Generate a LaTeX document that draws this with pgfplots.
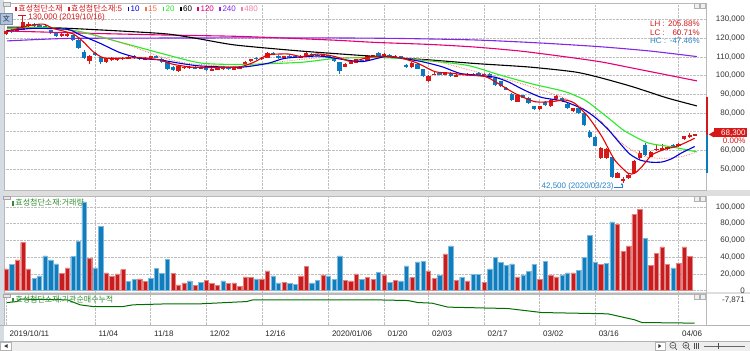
\documentclass[border=0pt]{standalone}
\usepackage{pgfplots}
\pgfplotsset{compat=1.18}
\usepackage{pgfplotstable}
\usetikzlibrary{arrows.meta}
\usepackage{fontspec}
\setmainfont{Liberation Sans}
\newfontfamily\kr{Noto Sans CJK KR}
\definecolor{cR}{RGB}{214,24,24}
\definecolor{cB}{RGB}{12,122,190}
\definecolor{vR}{RGB}{200,28,30}
\definecolor{vB}{RGB}{16,126,190}
\definecolor{m5}{RGB}{232,0,0}
\definecolor{m10}{RGB}{0,0,220}
\definecolor{m15}{RGB}{250,110,70}
\definecolor{m20}{RGB}{40,235,40}
\definecolor{m120}{RGB}{230,0,120}
\definecolor{m240}{RGB}{130,40,230}
\definecolor{m480}{RGB}{240,130,170}
\definecolor{gline}{RGB}{0,110,0}
\definecolor{ttl}{RGB}{50,140,50}
\definecolor{sep}{RGB}{222,222,222}
\definecolor{lbl}{RGB}{40,130,200}
\definecolor{stripc}{RGB}{214,220,228}
\definecolor{iconE}{RGB}{120,140,170}
\definecolor{iconF}{RGB}{176,194,218}
\definecolor{iconT}{RGB}{30,50,90}
\definecolor{botc}{RGB}{238,238,238}
\newcommand\fs{\fontsize{8}{9.6}\selectfont}

\pgfplotstableread{
i o h l c
0 122400 124600 121800 124000
2 123400 125200 123000 124600
3 124600 130000 124200 128600
4 126800 128400 126000 127600
10 121000 122800 120600 122200
11 121000 122800 120600 122400
15 107600 110800 106400 110400
18 107400 109600 106800 109200
19 108200 109800 107800 109200
20 108400 109400 108000 109000
21 108600 110000 108200 109600
22 109200 110400 108800 110000
25 108600 109800 108200 109400
26 109200 110600 108800 110200
31 102400 105400 102000 105000
32 104000 105000 103600 104600
33 104000 105200 103600 104800
35 103600 104600 103200 104200
37 102600 104000 102200 103600
38 103200 104400 102800 104000
39 103400 104600 103000 104200
41 103200 104400 102800 104000
42 103600 105000 103200 104600
43 105800 107800 105500 107400
44 107600 109000 107200 108700
46 108800 110000 108400 109500
47 109500 112600 109300 112200
50 109400 110600 109000 110200
53 109600 110800 109200 110400
54 110200 112400 110000 111900
57 110600 111600 110200 111200
61 104800 106600 104500 106400
62 106200 107500 106000 107200
63 106800 109000 106500 108600
65 108000 111000 107800 110600
66 110200 111200 110000 110800
68 110200 111800 110000 111400
70 110000 111000 109600 110600
73 104600 107400 104200 106800
76 97000 100000 96600 99600
77 100400 101600 100000 101000
79 100400 102000 100000 101600
81 99400 100800 99000 100400
83 100200 101200 99800 101000
86 100400 101400 100000 101000
92 86000 89800 85600 89400
96 81800 83800 81400 83400
98 83400 87400 83000 86800
99 87200 89400 86800 89000
102 80800 82800 80400 82400
107 56000 61600 55400 61200
108 55600 61000 55200 60600
110 45400 48600 45000 48000
111 44000 45900 42500 44400
112 45200 47200 44800 46800
113 48000 54800 47600 54400
114 55700 59600 55200 58700
116 56600 59600 56200 59200
117 60200 62800 59600 60800
118 60600 63200 60000 61000
119 60600 62200 60200 61800
121 62000 64000 61600 63600
122 65800 67800 65400 67400
123 67400 69200 66600 67900
124 68150 68450 68150 68450
}\upT

\pgfplotstableread{
i o h l c
1 124200 124800 122800 123400
5 127600 128000 126000 126600
6 127000 127800 125400 126000
7 126400 127000 124800 125400
8 124200 124600 122000 122600
9 122600 123000 120400 121000
12 121400 121800 118600 119000
13 119000 119400 114000 114600
14 112800 113400 109000 109400
16 111800 112400 110400 111000
17 110000 110600 106000 107000
23 110200 111000 108600 109400
24 109600 110000 108400 109000
27 110400 110800 109200 109600
28 109000 109400 106600 107000
29 107000 107200 103000 103400
30 104600 105000 102400 103000
34 104600 105000 103400 103800
36 104000 104400 102600 103000
40 104200 104600 103000 103400
45 109600 110000 108500 108800
48 111800 112500 110800 111200
49 110600 110800 109000 109400
51 110400 110800 109600 110000
52 110200 110600 109200 109600
55 111600 112000 110400 110800
56 111200 111600 110400 110800
58 110800 111200 109400 109800
59 109600 109800 107200 107600
60 107000 107400 100800 102200
64 108400 108800 107400 107800
67 112200 112800 110000 110400
69 111000 111400 110000 110400
71 110200 110600 109200 109600
72 105600 106000 104200 104800
74 106200 106600 103200 103600
75 103200 103600 99200 99600
78 101400 101800 100200 100600
80 101400 101800 99200 99600
82 101000 101400 100000 100400
84 101000 101400 100200 100600
85 101200 101600 100200 100600
87 100800 101200 98200 98600
88 98400 98800 94600 95000
89 96800 97200 93800 94200
90 93400 94000 92000 92400
91 90200 90600 86600 87000
93 89400 89800 87800 88200
94 88200 88600 84800 85200
95 83400 83800 81400 81800
97 86000 86400 83800 84200
100 88000 88400 86000 86400
101 84800 85200 82200 82600
103 82400 82800 79400 79800
104 79800 80200 73200 73600
105 70000 71000 66600 67200
106 67000 67400 62000 62400
109 56600 57000 45200 45600
115 62800 63600 57000 57500
120 62800 63200 61200 61600
}\dnT

\pgfplotstableread{
i v
0 25900
2 36600
3 57700
4 25900
10 20700
11 27000
15 38200
18 21000
19 17500
20 19900
21 25000
24 13900
25 11100
30 20700
31 6800
32 9200
34 6000
36 12300
37 8400
38 6000
40 8400
41 9200
42 5400
43 16300
44 15900
46 13900
47 23500
50 10000
53 17500
54 28700
57 18700
61 12300
62 11500
63 19900
65 15500
66 13100
68 18700
70 12300
73 15500
76 23500
77 14700
79 43800
81 12300
83 11500
86 10000
92 16300
96 13100
98 18300
99 16300
102 21100
107 31000
110 78800
111 47000
112 53300
113 91500
114 97000
116 30200
117 44600
118 52100
119 31000
121 32600
122 52100
123 41000
}\volR

\pgfplotstableread{
i v
1 31000
5 14700
6 17500
7 41400
8 36600
9 31800
12 40600
13 58500
14 106000
16 27000
17 76400
22 11100
23 13100
26 14700
27 26300
28 20300
29 37400
33 11500
35 10000
39 11500
45 13900
48 17500
49 9200
51 8400
52 7600
55 9200
56 12300
58 17500
59 13100
60 41400
64 13100
67 21900
69 10000
71 11500
72 29500
74 34200
75 35000
78 18300
80 53300
82 15900
84 19100
85 19500
87 25900
88 39400
89 33800
90 30200
91 31800
93 18700
94 22700
95 31000
97 35000
100 18700
101 21100
103 24300
104 39400
105 65700
106 34200
108 32600
109 82000
115 62000
120 27000
}\volB

\pgfplotsset{
  wick/.style={draw=none, no markers, forget plot, error bars/.cd, y dir=both, y explicit, error mark=none,
    error bar style={draw=#1, line width=0.8pt, line cap=butt}},
  body/.style={draw=none, no markers, forget plot, error bars/.cd, y dir=both, y explicit, error mark=none,
    error bar style={draw=#1, line width=4.3pt, line cap=butt}},
  panel/.style={anchor=south west, scale only axis, width=702pt, xmin=-0.36, xmax=125.9,
    axis line style={gray!55}, major tick length=0pt, scaled y ticks=false,
    yticklabel pos=right, yticklabel style={anchor=east, xshift=42.5pt, font=\fs, text=black!80},
    xmajorgrids, major grid style={gray!50, densely dotted, line width=0.5pt}},
}

\begin{document}
\begin{tikzpicture}
\begin{scope}[x=1pt,y=-1pt]
\useasboundingbox (0,0) rectangle (750,351);
\fill[white] (0,0) rectangle (750,351);
\fill[sep] (0,190) rectangle (750,196);
\fill[sep] (0,292.5) rectangle (750,294);
\fill[stripc] (0,0) rectangle (3.5,341);
\draw[gray!60] (0,325.5) -- (750,325.5);
\end{scope}

% ---------------- price panel
\begin{axis}[panel, at={(4pt,-190pt)}, height=187pt, ymin=38770, ymax=138780,
  xtick={16,26,36,46,58,68,76,86,96,106,121}, xticklabels=\empty,
  ytick={50000,60000,70000,80000,90000,100000,110000,120000,130000},
  yticklabels={{50,000},{60,000},{},{80,000},{90,000},{100,000},{110,000},{120,000},{130,000}},
  ymajorgrids]
\addplot[wick=cR] table[x=i, y expr={(\thisrow{h}+\thisrow{l})/2}, y error expr={(\thisrow{h}-\thisrow{l})/2}] {\upT};
\addplot[wick=cB] table[x=i, y expr={(\thisrow{h}+\thisrow{l})/2}, y error expr={(\thisrow{h}-\thisrow{l})/2}] {\dnT};
\addplot[body=cR] table[x=i, y expr={(\thisrow{o}+\thisrow{c})/2}, y error expr={(\thisrow{c}-\thisrow{o})/2}] {\upT};
\addplot[body=cB] table[x=i, y expr={(\thisrow{o}+\thisrow{c})/2}, y error expr={(\thisrow{o}-\thisrow{c})/2}] {\dnT};
% moving averages
\addplot[m240, line width=1.1pt, smooth, tension=0.4] coordinates {(0.18,118500) (6.1,119300) (13.3,119900) (42.1,120100) (58.3,120100) (70.9,119800) (84.4,119000) (96.0,117400) (106.8,115400) (115.8,113100) (124.3,110100)};
\addplot[m120, line width=1.1pt, smooth, tension=0.4] coordinates {(0.18,123800) (13.3,122700) (27.7,121700) (42.1,120900) (58.3,119000) (66.4,117700) (76.3,116600) (84.4,115200) (92.4,113100) (99.6,110400) (106.8,107400) (112.8,103900) (118.9,100300) (124.3,97100)};
\addplot[black, line width=1.1pt, smooth, tension=0.4] coordinates {(0.18,125900) (9.7,125400) (20.5,123800) (29.0,122200) (34.9,119500) (41.2,116300) (52.9,113100) (66.4,110200) (76.3,108300) (84.4,106400) (94.2,104500) (102.3,101900) (106.8,98900) (112.8,93900) (118.9,88000) (124.3,83700)};
\addplot[m20, line width=1.1pt, smooth, tension=0.4] coordinates {(0.18,125100) (7.0,125700) (13.3,123500) (20.0,118200) (27.7,112000) (34.9,106700) (42.1,105900) (52.9,107000) (59.2,109100) (66.4,109600) (70.9,109100) (78.4,107200) (83.5,105100) (88.8,100300) (94.6,95500) (100.5,91400) (104.1,86900) (106.5,81600) (109.0,75700) (111.3,70300) (115.5,63900) (119.8,61800) (124.3,59100)};
\addplot[m15, line width=0.7pt, densely dotted, smooth, tension=0.4] coordinates {(0.18,124900) (5,125500) (11.0,124300) (16.9,120800) (22.8,115400) (27.7,110100) (32.6,106500) (42.1,104700) (47.5,106700) (56.5,109400) (70.9,109600) (78.1,107000) (82.6,103500) (91.5,96700) (100.5,87800) (106.5,77100) (110.8,63700) (114.9,56600) (118.5,55700) (121.6,56600) (123.9,58700)};
\addplot[m10, line width=1.1pt, smooth, tension=0.4] coordinates {(0.18,124000) (4.86,125200) (11.0,124700) (13.3,121700) (16.9,117200) (20.5,112200) (24.1,109200) (27.7,108300) (31.3,106500) (34.9,105100) (42.1,104400) (47.1,106500) (50.2,109200) (56.1,110400) (59.2,109200) (64.0,107400) (68.2,110100) (71.2,109200) (74.8,107400) (78.4,104700) (81.7,101100) (85.3,100000) (88.0,99000) (90.4,96500) (93,92500) (96.3,88300) (100.3,86200) (103.8,82000) (106,77500) (108.2,71500) (110.5,63500) (112.2,58000) (114,54800) (116,53600) (118,53700) (119.8,55500) (121.5,58500) (123.9,62000)};
\addplot[m5, line width=1.1pt, smooth, tension=0.4] coordinates {(0.18,123400) (3.78,126500) (6.65,127500) (8.45,125200) (12.05,122200) (13.85,118100) (15.65,112700) (17.45,109500) (19.96,109200) (24.1,109500) (27.7,108300) (30.0,106000) (33.6,104400) (38,104300) (42.1,104600) (44.8,107400) (47.1,111000) (50.7,111500) (53.2,110100) (56.1,111500) (59.2,110100) (62.2,107400) (65.1,109700) (68.2,110400) (71.2,109200) (74.1,106500) (77.2,102000) (80.2,101200) (82.6,100300) (86.2,99400) (88.5,95800) (91.5,90500) (95.1,86000) (98.2,86000) (100.5,86900) (102.3,85100) (104.7,78000) (107.2,67300) (109.5,54800) (111.9,47700) (113.1,47700) (114.4,51200) (116.2,57500) (118.5,60500) (120.9,62300) (123.9,66400)};
\end{axis}

% ---------------- volume panel
\begin{axis}[panel, at={(4pt,-293pt)}, height=97pt, ymin=-2748, ymax=113142,
  xtick={16,26,36,46,58,68,76,86,96,106,121}, xticklabels=\empty,
  ytick={0,20000,40000,60000,80000,100000},
  yticklabels={0,{20,000},{40,000},{60,000},{80,000},{100,000}},
  ymajorgrids]
\addplot[ybar, bar width=4.3pt, bar shift=0pt, fill=vR, draw=vR!55!white, line width=0.4pt] table[x=i, y=v] {\volR};
\addplot[ybar, bar width=4.3pt, bar shift=0pt, fill=vB, draw=vB!55!white, line width=0.4pt] table[x=i, y=v] {\volB};
\end{axis}

% ---------------- institutional cumulative panel
\begin{axis}[panel, at={(4pt,-325pt)}, height=31pt, ymin=-15371, ymax=-6071,
  xtick={0,16,26,36,46,58,68,76,86,96,106,121},
  xticklabels={2019/10/11,11/04,11/18,12/02,12/16,2020/01/06,01/20,02/03,02/17,03/02,03/16,04/06},
  xticklabel style={anchor=west, yshift=-9pt, xshift=0pt, font=\fs, text=black!85},
  ytick={-7871}, yticklabels={-7{,}871}]
\addplot[gline, line width=1pt] coordinates {(0.18,-8681) (1.98,-8381) (2.5,-7661) (11.0,-7871) (13.3,-9371) (15.6,-9881) (21.0,-9881) (22.8,-9371) (29.0,-9071) (34.9,-9071) (43.3,-8381) (44.4,-7871) (62.4,-7871) (66.4,-7871) (72.3,-8081) (74.1,-8681) (76.6,-8861) (79.5,-10061) (90.3,-10481) (96.4,-11681) (108.3,-12071) (113.1,-13871) (114.4,-14681) (123.9,-14861)};
\end{axis}

% ---------------- decorations
\begin{scope}[x=1pt,y=-1pt]
% legend line
\node[anchor=west, inner sep=0pt, font=\fs] at (15,8) {%
\textcolor{cR}{\rule{1.6pt}{4.5pt}\hspace{1.5pt}{\kr 효성첨단소재}}\hspace{5.5pt}%
\textcolor{cR}{\rule{1.6pt}{4.5pt}\hspace{1.5pt}{\kr 효성첨단소재}:5}\hspace{5.5pt}%
\textcolor{m10}{\rule{1.6pt}{4.5pt}\hspace{1.5pt}10}\hspace{5.5pt}%
\textcolor{m15}{\rule{1.6pt}{4.5pt}\hspace{1.5pt}15}\hspace{5.5pt}%
\textcolor{m20}{\rule{1.6pt}{4.5pt}\hspace{1.5pt}20}\hspace{5.5pt}%
\textcolor{black}{\rule{1.6pt}{4.5pt}\hspace{1.5pt}60}\hspace{5.5pt}%
\textcolor{m120}{\rule{1.6pt}{4.5pt}\hspace{1.5pt}120}\hspace{5.5pt}%
\textcolor{m240}{\rule{1.6pt}{4.5pt}\hspace{1.5pt}240}\hspace{5.5pt}%
\textcolor{m480}{\rule{1.6pt}{4.5pt}\hspace{1.5pt}480}};
% high annotation
\draw[cR, line width=0.6pt] (18,15) -- (26,15) (22,15) -- (22,20);
\node[anchor=west, inner sep=0pt, font=\fs, text=cR] at (28,17.5) {130,000 (2019/10/16)};
% icons top-left
\draw[gray!70, fill=gray!20] (3,2.5) rectangle (10,6);
\draw[iconE, fill=iconF] (0.5,13) rectangle (12,24);
\node[font=\fontsize{7}{8}\selectfont\kr, text=iconT, inner sep=0pt] at (6.25,18.5) {文};
% LH LC HC
\node[anchor=west, inner sep=0pt, font=\fs, text=cR] at (650,24) {LH :};
\node[anchor=east, inner sep=0pt, font=\fs, text=cR] at (700,24) {205.88\%};
\node[anchor=west, inner sep=0pt, font=\fs, text=cR] at (650,32.5) {LC :};
\node[anchor=east, inner sep=0pt, font=\fs, text=cR] at (700,32.5) {60.71\%};
\node[anchor=west, inner sep=0pt, font=\fs, text=lbl] at (650,41) {HC :};
\node[anchor=east, inner sep=0pt, font=\fs, text=lbl] at (700,41) {-47.46\%};
% low annotation
\node[anchor=east, inner sep=0pt, font=\fs, text=lbl] at (614,187) {42,500 (2020/03/23)};
\draw[lbl, line width=0.6pt, -{Stealth[length=2.5pt,width=2.5pt]}] (614.5,187.5) -- (622,187.5) -- (622,183);
% current price marker
\fill[cR] (706,97) rectangle (708.5,135);
\fill[cB] (706,135) rectangle (708.5,173);
\fill[cR] (709,134.5) -- (714,131.5) -- (714,137.5) -- cycle;
\fill[cR] (714,128.5) rectangle (747,137.5);
\node[anchor=east, inner sep=0pt, font=\fs, text=white] at (746,133) {68,300};
\fill[white] (714,137.5) rectangle (747,145);
\node[anchor=east, inner sep=0pt, font=\fs, text=cR] at (746,141.2) {0.00\%};
% panel icons right
\foreach \yy in {3.5,196.5,294.5}{
  \draw[gray!60, fill=gray!12] (694,\yy) rectangle (699,\yy+5);
  \draw[gray!60, fill=gray!12] (700,\yy) rectangle (705,\yy+5);
}
% panel titles
\draw[gray!70, fill=gray!20] (3,196.5) rectangle (10,199.5);
\node[anchor=west, inner sep=0pt, font=\fs, text=ttl] at (12,203) {\rule{1.6pt}{4.5pt}\hspace{1.5pt}{\kr 효성첨단소재}:{\kr 거래량}};
\draw[gray!70, fill=gray!20] (3,294.5) rectangle (10,297.5);
\node[anchor=west, inner sep=0pt, font=\fs, text=ttl] at (12,299.5) {\rule{1.6pt}{4.5pt}\hspace{1.5pt}{\kr 효성첨단소재}:{\kr 기관순매수누적}};
% bottom bar
\fill[botc] (0,341) rectangle (750,351);
\draw[gray!60] (0,341) -- (750,341);
\draw[gray!60, fill=white] (0.5,342) rectangle (11,350.5);
\fill[black!80] (4,346.2) -- (7.5,344.2) -- (7.5,348.2) -- cycle;
\draw[gray!60, fill=white] (655,342) rectangle (665,350.5);
\fill[black!80] (661.5,346.2) -- (658.5,344.2) -- (658.5,348.2) -- cycle;
\draw[black!70, line width=0.6pt] (673,345.5) circle (3) (671.5,345.5) -- (674.5,345.5) (675,347.5) -- (677,350);
\draw[black!70, line width=0.6pt] (686,345.5) circle (3) (684.5,345.5) -- (687.5,345.5) (686,344) -- (686,347) (688,347.5) -- (690,350);
\draw[black!70, line width=0.6pt] (694,343) -- (694,349) (696,343) -- (696,349) (698,343) -- (698,349);
\draw[black!60, line width=0.5pt] (704,346) -- (745,346);
\draw[black!70, line width=0.8pt] (719,343) -- (719,349);
\end{scope}
\end{tikzpicture}
\end{document}
